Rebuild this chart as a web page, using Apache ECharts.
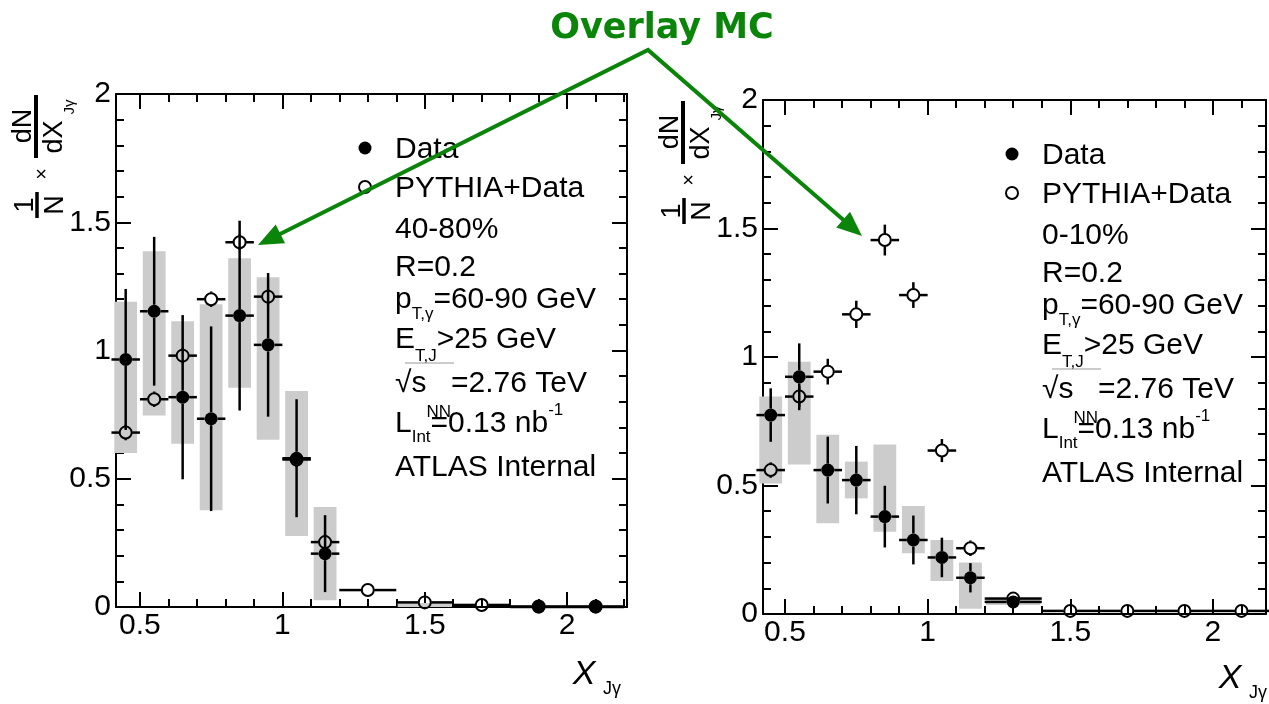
<!DOCTYPE html>
<html>
<head>
<meta charset="utf-8">
<script src="https://cdn.jsdelivr.net/npm/echarts@6/dist/echarts.min.js"></script>
<style>
html, body { margin: 0; padding: 0; background: #fff; }
#main { width: 1269px; height: 704px; }
</style>
</head>
<body>
<div id="main"></div>
<script>
// bins of X_Jgamma (centres, half widths, half width of the systematic boxes)
var binX    = [0.45, 0.55, 0.65, 0.75, 0.85, 0.95, 1.05, 1.15, 1.3, 1.5, 1.7, 1.9, 2.1];
var binHalf = [0.05, 0.05, 0.05, 0.05, 0.05, 0.05, 0.05, 0.05, 0.1, 0.1, 0.1, 0.1, 0.1];
var boxHalf = [0.04, 0.04, 0.04, 0.04, 0.04, 0.04, 0.04, 0.04, 0.095, 0.095, 0.095, 0.095, 0.095];

// 40-80% (left)
var dataPeriph  = [0.965, 1.153, 0.818, 0.734, 1.136, 1.022, 0.580, 0.208, null, null, null, 0.0, 0.0];
var statPeriph  = [0.275, 0.29, 0.32, 0.36, 0.37, 0.28, 0.23, 0.15, null, null, null, 0, 0];
var sysLoPeriph = [0.600, 0.747, 0.636, 0.377, 0.855, 0.652, 0.277, 0.026, null, 0.0, null, null, null];
var sysHiPeriph = [1.190, 1.387, 1.114, 1.180, 1.360, 1.286, 0.842, 0.390, null, 0.016, null, null, null];
var mcPeriph    = [0.680, 0.810, 0.980, 1.200, 1.422, 1.210, 0.575, 0.253, 0.066, 0.018, 0.008, 0.002, 0.002];
var mcErrPeriph = [0.03, 0.03, 0.03, 0.03, 0.03, 0.03, 0.03, 0.03, 0.01, 0.01, 0.01, 0.0, 0.0];

// 0-10% (right)
var dataCentral  = [0.774, 0.923, 0.560, 0.521, 0.379, 0.288, 0.220, 0.141, 0.047, null, null, null, null];
var statCentral  = [0.104, 0.13, 0.13, 0.133, 0.12, 0.095, 0.077, 0.057, 0.015, null, null, null, null];
var sysLoCentral = [0.508, 0.582, 0.353, 0.450, 0.320, 0.236, 0.128, 0.020, 0.035, null, null, null, null];
var sysHiCentral = [0.846, 0.982, 0.697, 0.593, 0.660, 0.420, 0.288, 0.200, 0.065, null, null, null, null];
var mcCentral    = [0.560, 0.846, 0.943, 1.166, 1.455, 1.241, 0.636, 0.256, 0.060, 0.012, 0.012, 0.012, 0.012];
var mcErrCentral = [0.03, 0.04, 0.05, 0.053, 0.06, 0.05, 0.045, 0.03, 0.02, 0.01, 0.01, 0.01, 0.01];

// ticks
var xMajor = [0.5, 1, 1.5, 2];
var xMinor = [0.5, 0.6, 0.7, 0.8, 0.9, 1.0, 1.1, 1.2, 1.3, 1.4, 1.5, 1.6, 1.7, 1.8, 1.9, 2.0, 2.1, 2.2];

var centralities = ['40-80%', '0-10%'];
var infoLines = [
    '{a|Data}',
    '{a|PYTHIA+Data}',
    '{a|%CENT%}',
    '{a|R=0.2}',
    '{p|p}{s|T,γ}{p|=60-90 GeV}',
    '{e|E}{s|T,J}{e|>25 GeV}',
    '{c|√s}{s|NN}{c|=2.76 TeV}',
    '{l|L}{s|Int}{l|=0.13 nb}{sup|-1}',
    '{a|ATLAS Internal}'
];
var infoY = [54, 93, 134, 172, 204, 244, 288, 328, 372];

var ink = '#000', grey = '#cccccc', green = '#0a850a';
var font = 'Liberation Sans';

var panels = [
    { left: 116, top: 94,  width: 511, height: 513, xMin: 0.416, xMax: 2.21,
      data: dataPeriph, stat: statPeriph, lo: sysLoPeriph, hi: sysHiPeriph, mc: mcPeriph, mcErr: mcErrPeriph,
      xtDx: -43, xtDy: 68 },
    { left: 763, top: 100, width: 503, height: 514, xMin: 0.423, xMax: 2.186,
      data: dataCentral, stat: statCentral, lo: sysLoCentral, hi: sysHiCentral, mc: mcCentral, mcErr: mcErrCentral,
      xtDx: -36, xtDy: 65 }
];

function rowsOf(y, ey) {
    var out = [];
    binX.forEach(function (x, i) {
        if (y[i] == null) return;
        out.push([x, y[i], ey[i] || 0, binHalf[i]]);
    });
    return out;
}

function boxesOf(lo, hi) {
    var out = [];
    binX.forEach(function (x, i) {
        if (lo[i] == null) return;
        out.push([x, lo[i], hi[i], boxHalf[i]]);
    });
    return out;
}

function renderBox(params, api) {
    var x = api.value(0), lo = api.value(1), hi = api.value(2), hw = api.value(3);
    var p0 = api.coord([x - hw, hi]), p1 = api.coord([x + hw, lo]);
    return {
        type: 'rect',
        shape: { x: p0[0], y: p0[1], width: p1[0] - p0[0], height: Math.max(p1[1] - p0[1], 3) },
        style: { fill: grey }
    };
}

function renderErr(params, api) {
    var x = api.value(0), y = api.value(1), ey = api.value(2), ex = api.value(3);
    var c = api.coord([x, y]);
    var yt = api.coord([x, y + ey])[1], yb = api.coord([x, Math.max(y - ey, 0)])[1];
    var xl = api.coord([x - ex, y])[0], xr = api.coord([x + ex, y])[0];
    var gap = 6.5, segs = [];
    if (c[1] - yt > gap) segs.push([c[0], yt, c[0], c[1] - gap]);
    if (yb - c[1] > gap) segs.push([c[0], c[1] + gap, c[0], yb]);
    if (c[0] - xl > gap) segs.push([xl, c[1], c[0] - gap, c[1]]);
    if (xr - c[0] > gap) segs.push([c[0] + gap, c[1], xr, c[1]]);
    return {
        type: 'group',
        children: segs.map(function (s) {
            return { type: 'line', shape: { x1: s[0], y1: s[1], x2: s[2], y2: s[3] },
                     style: { stroke: ink, lineWidth: 2.5 } };
        })
    };
}

var grids = [], xAxes = [], yAxes = [], series = [], graphics = [];

panels.forEach(function (p, k) {
    var g = 2 * k;
    var rect = { left: p.left, top: p.top, width: p.width, height: p.height, outerBoundsMode: 'none' };
    grids.push(rect, Object.assign({}, rect));

    // major ticks (grid g) and minor ticks (grid g+1), mirrored on top / right like ROOT
    ['bottom', 'top'].forEach(function (pos) {
        xAxes.push({
            gridIndex: g, type: 'value', position: pos, min: p.xMin, max: p.xMax,
            axisLine: { show: true, onZero: false, lineStyle: { color: ink, width: 2 } },
            axisTick: { inside: true, length: 15, customValues: xMajor, lineStyle: { color: ink, width: 2 } },
            axisLabel: { show: pos === 'bottom', customValues: xMajor, margin: 4, color: ink,
                         fontFamily: font, fontSize: 30 },
            splitLine: { show: false }
        });
        xAxes.push({
            gridIndex: g + 1, type: 'value', position: pos, min: p.xMin, max: p.xMax,
            axisLine: { show: false, onZero: false },
            axisTick: { inside: true, length: 8, customValues: xMinor, lineStyle: { color: ink, width: 2 } },
            axisLabel: { show: false },
            splitLine: { show: false }
        });
    });
    ['left', 'right'].forEach(function (pos) {
        yAxes.push({
            gridIndex: g, type: 'value', position: pos, min: 0, max: 2, interval: 0.5,
            axisLine: { show: true, onZero: false, lineStyle: { color: ink, width: 2 } },
            axisTick: { show: true, inside: true, length: 15, lineStyle: { color: ink, width: 2 } },
            axisLabel: { show: pos === 'left', margin: 5, color: ink, fontFamily: font, fontSize: 30 },
            splitLine: { show: false }
        });
        yAxes.push({
            gridIndex: g + 1, type: 'value', position: pos, min: 0, max: 2, interval: 0.1,
            axisLine: { show: false, onZero: false },
            axisTick: { show: true, inside: true, length: 8, lineStyle: { color: ink, width: 2 } },
            axisLabel: { show: false },
            splitLine: { show: false }
        });
    });

    var xi = 4 * k, yi = 4 * k; // first (major, bottom/left) axis of this panel
    series.push({
        type: 'custom', name: 'sys' + k, xAxisIndex: xi, yAxisIndex: yi, z: 1,
        renderItem: renderBox, data: boxesOf(p.lo, p.hi), silent: true
    });
    series.push({
        type: 'custom', name: 'dataErr' + k, xAxisIndex: xi, yAxisIndex: yi, z: 3,
        renderItem: renderErr, data: rowsOf(p.data, p.stat), silent: true
    });
    series.push({
        type: 'custom', name: 'mcErr' + k, xAxisIndex: xi, yAxisIndex: yi, z: 3,
        renderItem: renderErr, data: rowsOf(p.mc, p.mcErr), silent: true
    });
    series.push({
        type: 'scatter', name: 'Data', xAxisIndex: xi, yAxisIndex: yi, z: 4, clip: false,
        symbol: 'circle', symbolSize: 13, itemStyle: { color: ink, opacity: 1 },
        data: rowsOf(p.data, p.stat).map(function (r) { return [r[0], r[1]]; })
    });
    series.push({
        type: 'scatter', name: 'PYTHIA+Data', xAxisIndex: xi, yAxisIndex: yi, z: 5, clip: false,
        symbol: 'circle', symbolSize: 12,
        itemStyle: { color: 'rgba(255,255,255,0)', borderColor: ink, borderWidth: 2, opacity: 1 },
        data: rowsOf(p.mc, p.mcErr).map(function (r) { return [r[0], r[1]]; })
    });

    var L = p.left, T = p.top, R = p.left + p.width, B = p.top + p.height;

    // rotated y title: 1/N x dN/dX_Jg
    var tf = function (t, u, v, size) {
        return { type: 'text', x: u, y: v,
                 style: { text: t, fill: ink, font: size + 'px "' + font + '"', align: 'center', verticalAlign: 'middle' } };
    };
    graphics.push({
        type: 'group', x: L - 79, y: T + 124, rotation: Math.PI / 2,
        children: [
            { type: 'line', shape: { x1: 0, y1: 0, x2: 26, y2: 0 }, style: { stroke: ink, lineWidth: 3.5 } },
            tf('1', 13, -11, 27),
            tf('N', 13, 19, 27),
            tf('×', 44, 5, 20),
            { type: 'line', shape: { x1: 60, y1: -1, x2: 123, y2: -1 }, style: { stroke: ink, lineWidth: 4 } },
            tf('dN', 92, -13, 27),
            tf('dX', 81, 18, 27),
            tf('Jγ', 111, 33, 15)
        ]
    });

    // x title
    graphics.push({ type: 'text', x: R + p.xtDx, y: B + p.xtDy,
        style: { text: 'X', fill: ink, font: 'italic 34px "' + font + '"', align: 'center', verticalAlign: 'middle' } });
    graphics.push({ type: 'text', x: R + p.xtDx + 28, y: B + p.xtDy + 14,
        style: { text: 'Jγ', fill: ink, font: '18px "' + font + '"', align: 'center', verticalAlign: 'middle' } });

    // legend markers
    graphics.push({ type: 'circle', shape: { cx: L + 249, cy: T + 54, r: 6.5 }, style: { fill: ink } });
    graphics.push({ type: 'circle', shape: { cx: L + 249, cy: T + 93, r: 6 },
        style: { fill: 'none', stroke: ink, lineWidth: 2 } });

    // info text
    infoLines.forEach(function (line, i) {
        graphics.push({
            type: 'text', x: L + 279, y: T + infoY[i] + 2,
            style: {
                text: line.replace('%CENT%', centralities[k]),
                fill: ink, align: 'left', verticalAlign: 'middle',
                rich: {
                    a:   { fontFamily: font, fontSize: 30, lineHeight: 36, color: ink },
                    p:   { fontFamily: font, fontSize: 30, lineHeight: 45, color: ink },
                    e:   { fontFamily: font, fontSize: 30, lineHeight: 50, color: ink },
                    c:   { fontFamily: font, fontSize: 30, lineHeight: 74, color: ink },
                    l:   { fontFamily: font, fontSize: 30, lineHeight: 44, color: ink },
                    s:   { fontFamily: font, fontSize: 17, lineHeight: 4, verticalAlign: 'bottom', color: ink },
                    sup: { fontFamily: font, fontSize: 17, lineHeight: 26, verticalAlign: 'top', color: ink }
                }
            }
        });
    });
    graphics.push({ type: 'line', shape: { x1: L + 289, y1: T + 269, x2: L + 338, y2: T + 269 },
        style: { stroke: '#999', lineWidth: 1 } });
});

// "Overlay MC" annotation with its two arrows
var apex = [648, 50];
var tips = [[258, 245], [862, 236]];
var bases = [];
tips.forEach(function (tip) {
    var dx = tip[0] - apex[0], dy = tip[1] - apex[1], len = Math.sqrt(dx * dx + dy * dy);
    var ux = dx / len, uy = dy / len, hl = 25, hw = 10.5;
    var bx = tip[0] - ux * hl, by = tip[1] - uy * hl;
    bases.push([bx + ux * 2, by + uy * 2]);
    graphics.push({ type: 'polygon', z: 20,
        shape: { points: [tip, [bx - uy * hw, by + ux * hw], [bx + uy * hw, by - ux * hw]] },
        style: { fill: green } });
});
graphics.push({ type: 'polyline', z: 20, shape: { points: [bases[0], apex, bases[1]] },
    style: { stroke: green, lineWidth: 4, lineJoin: 'miter', fill: null } });
graphics.push({ type: 'text', x: 662, y: 29, z: 20,
    style: { text: 'Overlay MC', fill: green, font: 'bold 35px "DejaVu Sans"', align: 'center', verticalAlign: 'middle' } });

var chart = echarts.init(document.getElementById('main'));
chart.setOption({
    backgroundColor: '#fff',
    animation: false,
    grid: grids,
    xAxis: xAxes,
    yAxis: yAxes,
    series: series,
    graphic: { elements: graphics }
});
</script>
</body>
</html>
